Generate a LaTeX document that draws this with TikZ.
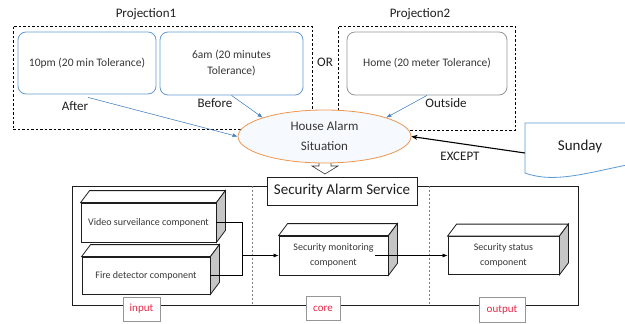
\documentclass[tikz,border=0pt]{standalone}
\usepackage{fontspec}
\setmainfont{Carlito}
\usetikzlibrary{shapes.geometric,arrows.meta}

\definecolor{tolblue}{RGB}{104,155,208}
\definecolor{boxgrey}{RGB}{150,150,150}
\definecolor{arrblue}{RGB}{70,130,190}
\definecolor{sitorange}{RGB}{237,150,80}
\definecolor{sitfill}{RGB}{246,249,253}
\definecolor{sunblue}{RGB}{91,155,213}
\definecolor{tagred}{RGB}{230,40,70}
\definecolor{txtgrey}{RGB}{55,55,55}
\definecolor{txtdark}{RGB}{30,30,30}

\begin{document}
\begin{tikzpicture}[x=1pt,y=-1pt,
  tol/.style={draw=tolblue, line width=0.8pt, rounded corners=8pt, fill=white, text=txtgrey, align=center, font=\fontsize{11.5}{16}\selectfont},
  grp/.style={draw, dash pattern=on 2.5pt off 2pt, line width=0.6pt},
  lbl/.style={font=\fontsize{13}{15}\selectfont, text=txtdark},
  comp/.style={draw=txtdark, line width=0.8pt, fill=white, text=txtgrey, align=center, font=\fontsize{10}{15}\selectfont, inner sep=0pt},
  tag/.style={draw=boxgrey, line width=0.7pt, fill=white, text=tagred, font=\fontsize{11}{13}\selectfont, inner sep=0pt},
  feed/.style={-{Latex[length=5pt,width=4pt]}, draw=arrblue, fill=arrblue, line width=0.5pt}
]
\useasboundingbox (0,0) rectangle (625,324);

% projection 1
\node[grp, minimum width=299pt, minimum height=103pt] (p1) at (162.5,77.5) {};
\node[lbl] (p1name) at (146,14) {Projection1};
\node[tol, minimum width=138pt, minimum height=62pt] (t10) at (87,63) {10pm (20 min Tolerance)};
\node[tol, minimum width=143pt, minimum height=63pt] (t6) at (231.5,63.5) {6am (20 minutes\\Tolerance)};
\node[lbl] (after) at (75,106) {After};
\node[lbl] (before) at (215,103) {Before};

\node[lbl] (or) at (325,62) {OR};

% projection 2
\node[grp, minimum width=177pt, minimum height=104pt] (p2) at (426.5,78) {};
\node[lbl] (p2name) at (420,14) {Projection2};
\node[tol, draw=boxgrey, minimum width=160pt, minimum height=63pt] (home) at (427,63.5) {Home (20 meter Tolerance)};
\node[lbl] (outside) at (446,103) {Outside};

% hollow arrow down to the service
\draw[fill=white, draw=txtgrey, line width=0.6pt] (319,158) -- (319,166) -- (312,166) -- (325,174) -- (338,166) -- (331,166) -- (331,158);

% situation
\node[ellipse, draw=sitorange, fill=sitfill, line width=0.8pt, minimum width=173pt, minimum height=53pt, inner sep=0pt,
      align=center, text=txtgrey, font=\fontsize{13}{20}\selectfont] (sit) at (324.5,136.5) {House Alarm\\Situation};

\draw[feed] ([shift={(1,3)}]t10.south) -- (sit.west);
\draw[feed] (t6.south) -- (sit.163);
\draw[feed] (home.south) -- (sit.17);

% exception
\draw[draw=sunblue, fill=white, line width=0.8pt] (525,123) -- (632,123) -- (632,164)
  .. controls (590,172) and (555,184) .. (525,173) -- cycle;
\node[font=\fontsize{15}{17}\selectfont, text=txtdark] (sun) at (580,147) {Sunday};
\coordinate (exc) at (525,153);
\draw[-{Stealth[length=6pt,width=5pt]}, line width=1.1pt] (exc) -- (sit.east);
\node[lbl] (except) at (460,156) {EXCEPT};

% service frame
\node[draw=txtdark, line width=0.9pt, minimum width=506pt, minimum height=119pt] (svc) at (325,245.5) {};
\draw[dash pattern=on 2pt off 2pt, draw=gray, line width=0.6pt] (252,0 |- svc.north) -- (252,0 |- svc.south);
\draw[dash pattern=on 2pt off 2pt, draw=gray, line width=0.6pt] (429,0 |- svc.north) -- (429,0 |- svc.south);
\node[draw=txtdark, fill=white, line width=0.9pt, minimum width=150pt, minimum height=28pt, text=txtdark,
      font=\fontsize{15}{17}\selectfont] (ttl) at (342,191) {Security Alarm Service};

% components
\node[comp, minimum width=135pt, minimum height=39pt] (vid) at (148.5,222.5) {Video surveilance component};
\node[comp, minimum width=128pt, minimum height=37pt] (fire) at (146,275.5) {Fire detector component};
\node[comp, minimum width=109pt, minimum height=39pt] (mon) at (333.5,255.5) {Security monitoring\\component};
\node[comp, minimum width=111pt, minimum height=38pt] (stat) at (503.5,255.5) {Security status\\component};

\foreach \b in {vid,fire,mon,stat} {
  \draw[draw=txtdark, line width=0.8pt, fill=white] (\b.north west) -- ([shift={(9,-12)}]\b.north west)
    -- ([shift={(9,-12)}]\b.north east) -- (\b.north east) -- cycle;
  \draw[draw=txtdark, line width=0.8pt, fill=gray!45] (\b.north east) -- ([shift={(9,-12)}]\b.north east)
    -- ([shift={(9,-12)}]\b.south east) -- (\b.south east) -- cycle;
}

% wiring
\coordinate (jn) at ([xshift=-36]mon.west);
\draw[line width=0.7pt] (vid.east) -| (jn) |- (fire.east);
\draw[-{Latex[length=5pt,width=4pt]}, line width=0.7pt] (jn) -- (mon.west);
\draw[-{Latex[length=5pt,width=4pt]}, line width=0.7pt] ([xshift=-13]mon.east) -- (stat.west);

% layer tags
\node[tag, minimum width=37pt, minimum height=24pt] (input) at (141.5,309) {input};
\node[tag, minimum width=34pt, minimum height=24pt] (core) at (323,308.5) {core};
\node[tag, minimum width=46pt, minimum height=25pt] (output) at (502,309.5) {output};
\end{tikzpicture}
\end{document}
